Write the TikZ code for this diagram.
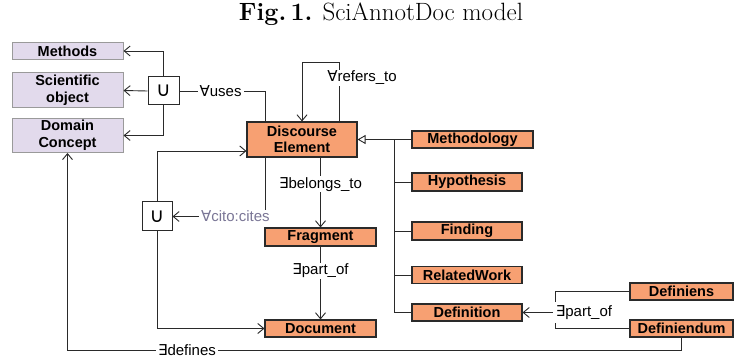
\documentclass[tikz,border=0pt]{standalone}
\usepackage{fontspec}
\usetikzlibrary{arrows.meta}
\newfontfamily\hv{Liberation Sans}
\newfontfamily\symf{DejaVu Sans}
\newcommand{\FA}{{\symf ∀}}
\newcommand{\EX}{{\symf ∃}}
\definecolor{orng}{HTML}{F7A072}
\definecolor{lav}{HTML}{E2DAEC}
\definecolor{lavb}{HTML}{9A9A9A}
\definecolor{ln}{HTML}{2A2A2A}
\definecolor{cite}{HTML}{7A7696}
\tikzset{
  obox/.style={draw=ln,fill=orng,line width=1.1pt,inner sep=0pt,align=center,
    font=\hv\bfseries\fontsize{14.5}{16.5}\selectfont},
  lbox/.style={draw=lavb,fill=lav,line width=1pt,inner sep=0pt,align=center,
    font=\hv\bfseries\fontsize{14.5}{16.5}\selectfont},
  ubox/.style={draw=ln,fill=white,line width=1pt,inner sep=0pt,
    minimum width=31pt,minimum height=28pt,font=\symf\fontsize{20}{22}\selectfont},
  lab/.style={fill=white,inner xsep=2pt,inner ysep=1pt,font=\hv\fontsize{15}{17}\selectfont},
  con/.style={draw=ln,line width=0.9pt},
  arr/.style={con,-{Straight Barb[length=6pt,width=10pt]}},
  gen/.style={con,-{Triangle[open,length=8pt,width=9pt,fill=white]}}
}
\begin{document}
\begin{tikzpicture}[x=1pt,y=-1pt]
\useasboundingbox (0,0) rectangle (734,358);
\node[font=\fontsize{25}{27}\selectfont] (title) at (381,14) {\textbf{Fig.\,1.} SciAnnotDoc model};
% lavender boxes
\node[lbox,minimum width=111pt,minimum height=17pt] (methods) at (67.5,51) {Methods};
\node[lbox,minimum width=111pt,minimum height=35pt] (sci) at (67.5,90.5) {Scientific\\object};
\node[lbox,minimum width=111pt,minimum height=34pt] (dc) at (67.5,135.5) {Domain\\Concept};
\node[ubox] (u1) at (163.5,91) {∪};
% orange boxes
\node[obox,minimum width=110pt,minimum height=35pt] (de) at (302,139.5) {Discourse\\Element};
\node[obox,minimum width=121pt,minimum height=17pt] (meth) at (472.5,139.5) {Methodology};
\node[obox,minimum width=110pt,minimum height=18pt] (hyp) at (467,182) {Hypothesis};
\node[obox,minimum width=110pt,minimum height=18pt] (find) at (467,231) {Finding};
\node[obox,minimum width=110pt,minimum height=17pt] (rw) at (467,275) {RelatedWork};
\node[obox,minimum width=110pt,minimum height=17pt] (def) at (467,312.5) {Definition};
\node[obox,minimum width=103pt,minimum height=17pt] (dfs) at (681.5,291.5) {Definiens};
\node[obox,minimum width=103pt,minimum height=17pt] (dfd) at (681.5,328.5) {Definiendum};
\node[obox,minimum width=111pt,minimum height=18pt] (frag) at (320.5,237) {Fragment};
\node[obox,minimum width=111pt,minimum height=17pt] (doc) at (320.5,328.5) {Document};
\node[ubox,minimum width=30pt,minimum height=29pt] (u2) at (157,216.5) {∪};
% connectors from U1
\draw[arr] (u1.north) |- (methods.east);
\draw[arr] (u1.west) -- (sci.east);
\draw[arr] (u1.south) |- (dc.east);
\coordinate (deu) at (265,122);
\draw[con] (deu) |- (u1.east) node[lab,pos=0.76] {\FA uses};
% refers_to loop
\coordinate (dref) at (339,122);
\coordinate (dtop) at (339,62);
\draw[arr] (dref) -- (dtop) -| (de.north);
\node[lab] (reflab) at (362,78) {\FA refers\_to};
% generalization
\coordinate (bus) at (394,139.5);
\draw[gen] (meth.west) -- (bus) -- (de.east);
\foreach \n in {hyp,find,rw,def} \draw[con] (\n.west) -| (bus);
% belongs_to, part_of
\draw[arr] (frag.north |- de.south) -- (frag.north) node[lab,pos=0.38] {\EX belongs\_to};
\draw[arr] (frag.south) -- (doc.north) node[lab,pos=0.33] {\EX part\_of};
% cito:cites
\coordinate (dec) at (265,157);
\draw[arr] (dec) |- (u2.east) node[lab,pos=0.66,text=cite] {\FA cito:cites};
\draw[arr] (u2.north) |- ([yshift=-11.5pt]de.west);
\draw[arr] (u2.south) |- (doc.west);
% definiens / definiendum
\coordinate (brk) at (555,312.5);
\draw[con] (dfs.west) -| (brk) |- (dfd.west);
\node[lab,inner sep=3pt] (pof) at (584,312.5) {\EX part\_of};
\draw[arr] (pof.west) -- (def.east);
% defines
\coordinate (dfc) at (67.5,350);
\draw[arr] (dfd.south) |- (dfc) -- (dc.south);
\node[lab] (deflab) at (187,350) {\EX defines};
\end{tikzpicture}
\end{document}
